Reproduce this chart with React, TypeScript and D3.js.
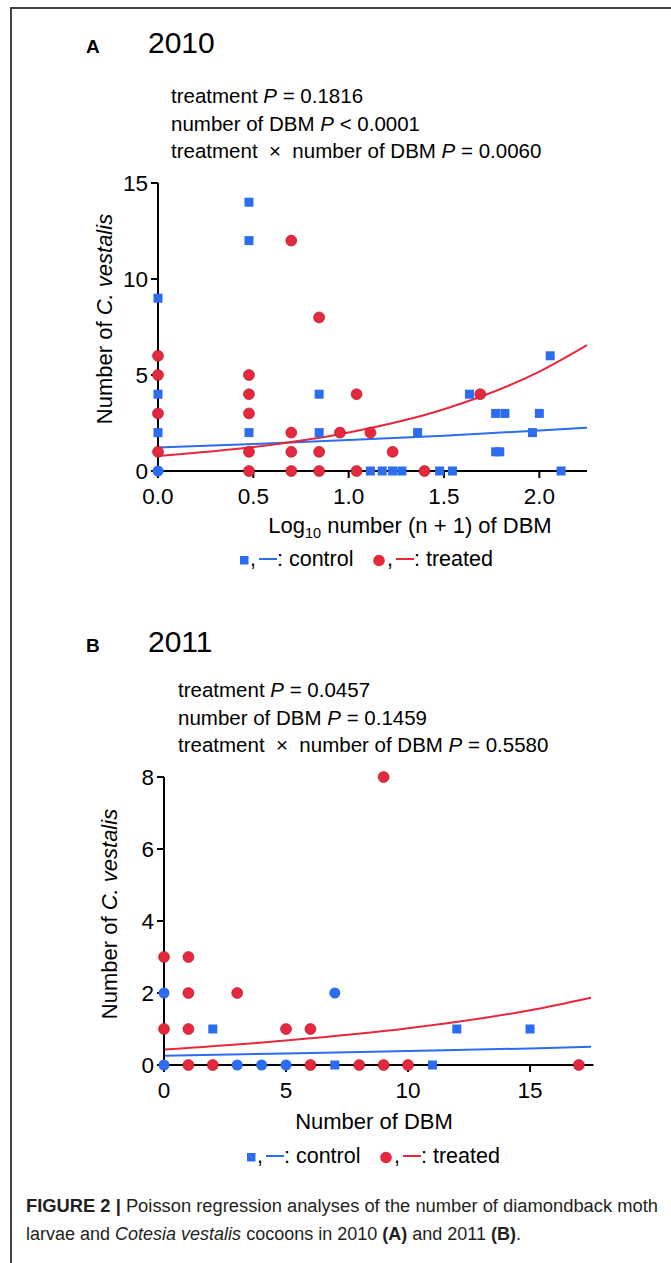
import React from "react";
import * as d3 from "d3";

const FONT = "'Liberation Sans', Arial, Helvetica, sans-serif";
const BLUE = "#2b6cf0";
const RED = "#e6283d";

// 2010: [number of DBM (n), number of C. vestalis]; x is plotted as log10(n + 1)
const control2010 = [
  [0, 9], [0, 4], [0, 2],
  [2, 14], [2, 12], [2, 2],
  [6, 4], [6, 2],
  [12, 0], [14, 0], [16, 0], [18, 0],
  [22, 2], [29, 0], [34, 0], [42, 4],
  [58, 3], [58, 1], [61, 1], [65, 3],
  [91, 2], [99, 3], [113, 6], [129, 0],
];
const control2010Round = [[0, 0]];
const treated2010 = [
  [0, 6], [0, 5], [0, 3], [0, 1],
  [2, 5], [2, 4], [2, 3], [2, 1], [2, 0],
  [4, 12], [4, 2], [4, 1], [4, 0],
  [6, 8], [6, 1], [6, 0],
  [8, 2], [10, 4], [10, 0], [12, 2],
  [16, 1], [24, 0], [48, 4],
];
// fitted Poisson curves
const fit2010X = [0, 0.5, 1, 1.5, 2, 2.25];
const fit2010Control = [1.23, 1.41, 1.61, 1.84, 2.11, 2.26];
const fit2010Treated = [0.78, 1.25, 2.01, 3.22, 5.18, 6.56];

// 2011: [number of DBM, number of C. vestalis]
const control2011 = [[2, 1], [7, 0], [11, 0], [12, 1], [15, 1]];
const control2011Round = [[0, 2], [0, 0], [3, 0], [4, 0], [5, 0], [7, 2]];
const treated2011 = [
  [0, 3], [0, 1], [1, 3], [1, 2], [1, 1], [1, 0],
  [2, 0], [3, 2], [5, 1], [6, 1], [6, 0], [8, 0],
  [9, 8], [9, 0], [10, 0], [17, 0],
];
const fit2011X = [0, 5, 10, 15, 17.5];
const fit2011Control = [0.26, 0.32, 0.39, 0.46, 0.51];
const fit2011Treated = [0.43, 0.68, 1.02, 1.52, 1.87];

const stats2010 = [
  ["treatment", "=", "0.1816"],
  ["number of DBM", "<", "0.0001"],
  ["treatment  \u00d7  number of DBM", "=", "0.0060"],
];
const stats2011 = [
  ["treatment", "=", "0.0457"],
  ["number of DBM", "=", "0.1459"],
  ["treatment  \u00d7  number of DBM", "=", "0.5580"],
];

const xTicks2010 = [0, 0.5, 1, 1.5, 2];
const yTicks2010 = [0, 5, 10, 15];
const xTicks2011 = [0, 5, 10, 15];
const yTicks2011 = [0, 2, 4, 6, 8];

const Legend = ({ x, y }) => (
  <g fontFamily={FONT} fontSize={21.5} fill="#000">
    <rect x={x} y={y - 10} width={8.5} height={8.5} fill={BLUE} />
    <text x={x + 10} y={y}>,</text>
    <line x1={x + 19} x2={x + 37} y1={y - 7} y2={y - 7} stroke={BLUE} strokeWidth={2} />
    <text x={x + 37} y={y}>: control</text>
    <circle cx={x + 139} cy={y - 5.5} r={5.8} fill={RED} />
    <text x={x + 147} y={y}>,</text>
    <line x1={x + 156} x2={x + 174} y1={y - 7} y2={y - 7} stroke={RED} strokeWidth={2} />
    <text x={x + 174} y={y}>: treated</text>
  </g>
);

const Panel = ({ cfg }) => {
  const { x, y, xv } = cfg;
  const x0 = x.range()[0];
  const y0 = y.range()[0];
  const line = d3
    .line()
    .x(d => x(d[0]))
    .y(d => y(d[1]))
    .curve(d3.curveMonotoneX);
  const fitC = cfg.fitX.map((v, i) => [v, cfg.fitC[i]]);
  const fitT = cfg.fitX.map((v, i) => [v, cfg.fitT[i]]);

  return (
    <g fontFamily={FONT}>
      <text x={cfg.letterX} y={cfg.titleY} fontSize={19} fontWeight="bold">{cfg.letter}</text>
      <text x={cfg.yearX} y={cfg.titleY} fontSize={30}>{cfg.year}</text>
      {cfg.stats.map((s, i) => (
        <text key={i} x={cfg.statsX} y={cfg.statsY + i * 27.5} fontSize={20.5} style={{ whiteSpace: "pre" }}>
          {s[0] + " "}
          <tspan fontStyle="italic">P</tspan>
          {` ${s[1]} ${s[2]}`}
        </text>
      ))}

      {/* fitted curves */}
      <path d={line(fitC)} fill="none" stroke={BLUE} strokeWidth={2} />
      <path d={line(fitT)} fill="none" stroke={RED} strokeWidth={2} />

      {/* axes */}
      <line x1={x0} x2={x0} y1={y0} y2={y.range()[1]} stroke="#000" strokeWidth={2} />
      <line x1={x0} x2={x.range()[1]} y1={y0} y2={y0} stroke="#000" strokeWidth={2} />
      {cfg.yTicks.map(t => (
        <g key={"y" + t}>
          <line x1={x0 - 7} x2={x0} y1={y(t)} y2={y(t)} stroke="#000" strokeWidth={2} />
          <text x={x0 - 10} y={y(t) + 8} fontSize={22.5} textAnchor="end">{t}</text>
        </g>
      ))}
      {cfg.xTicks.map(t => (
        <g key={"x" + t}>
          <line x1={x(t)} x2={x(t)} y1={y0} y2={y0 + 7} stroke="#000" strokeWidth={2} />
          <text x={x(t)} y={y0 + 33} fontSize={22.5} textAnchor="middle">{cfg.xFormat(t)}</text>
        </g>
      ))}

      {/* points */}
      {cfg.treated.map((d, i) => (
        <circle key={"t" + i} cx={x(xv(d[0]))} cy={y(d[1])} r={5.5} fill={RED} stroke="#a3172a" strokeWidth={0.6} />
      ))}
      {cfg.controlRound.map((d, i) => (
        <circle key={"r" + i} cx={x(xv(d[0]))} cy={y(d[1])} r={5.5} fill={BLUE} />
      ))}
      {cfg.control.map((d, i) => (
        <rect key={"c" + i} x={x(xv(d[0])) - 4.5} y={y(d[1]) - 4.5} width={9} height={9} fill={BLUE} />
      ))}

      {/* axis titles */}
      <text transform={`translate(${cfg.yLabelX},${cfg.yLabelY}) rotate(-90)`} fontSize={22} textAnchor="middle">
        Number of <tspan fontStyle="italic">C. vestalis</tspan>
      </text>
      <text x={cfg.xLabelX} y={cfg.xLabelY} fontSize={22} textAnchor="middle">
        {cfg.xLabel}
      </text>
      <Legend x={cfg.legendX} y={cfg.legendY} />
    </g>
  );
};

const App = () => {
  const panelA = {
    letter: "A",
    year: "2010",
    letterX: 86,
    yearX: 148,
    titleY: 53,
    stats: stats2010,
    statsX: 171,
    statsY: 103,
    x: d3.scaleLinear().domain([0, 2.25]).range([158, 587]),
    y: d3.scaleLinear().domain([0, 15]).range([471, 183]),
    xv: n => Math.log10(n + 1),
    xTicks: xTicks2010,
    yTicks: yTicks2010,
    xFormat: d3.format(".1f"),
    control: control2010,
    controlRound: control2010Round,
    treated: treated2010,
    fitX: fit2010X,
    fitC: fit2010Control,
    fitT: fit2010Treated,
    yLabelX: 112,
    yLabelY: 319,
    xLabelX: 410,
    xLabelY: 533,
    xLabel: (
      <>
        Log<tspan fontSize={14.5} dy={5}>10</tspan>
        <tspan dy={-5}> number (n + 1) of DBM</tspan>
      </>
    ),
    legendX: 240,
    legendY: 566,
  };

  const panelB = {
    letter: "B",
    year: "2011",
    letterX: 86,
    yearX: 148,
    titleY: 652,
    stats: stats2011,
    statsX: 178,
    statsY: 697,
    x: d3.scaleLinear().domain([0, 17.6]).range([164, 593.5]),
    y: d3.scaleLinear().domain([0, 8]).range([1065, 777]),
    xv: n => n,
    xTicks: xTicks2011,
    yTicks: yTicks2011,
    xFormat: d3.format("d"),
    control: control2011,
    controlRound: control2011Round,
    treated: treated2011,
    fitX: fit2011X,
    fitC: fit2011Control,
    fitT: fit2011Treated,
    yLabelX: 117,
    yLabelY: 914,
    xLabelX: 374,
    xLabelY: 1129,
    xLabel: "Number of DBM",
    legendX: 247,
    legendY: 1163,
  };

  return (
    <svg width={671} height={1263} style={{ position: "absolute", left: 0, top: 0, background: "#fff" }}>
      <rect x={11} y={8} width={700} height={1300} fill="none" stroke="#444" strokeWidth={2} />
      <Panel cfg={panelA} />
      <Panel cfg={panelB} />
      <g fontFamily={FONT} fontSize={18} fill="#231f20">
        <text x={26} y={1212} textLength={632} lengthAdjust="spacingAndGlyphs">
          <tspan fontWeight="bold">FIGURE 2 | </tspan>
          Poisson regression analyses of the number of diamondback moth
        </text>
        <text x={26} y={1240}>
          larvae and <tspan fontStyle="italic">Cotesia vestalis</tspan> cocoons in 2010{" "}
          <tspan fontWeight="bold">(A)</tspan> and 2011 <tspan fontWeight="bold">(B)</tspan>.
        </text>
      </g>
    </svg>
  );
};

export default App;
